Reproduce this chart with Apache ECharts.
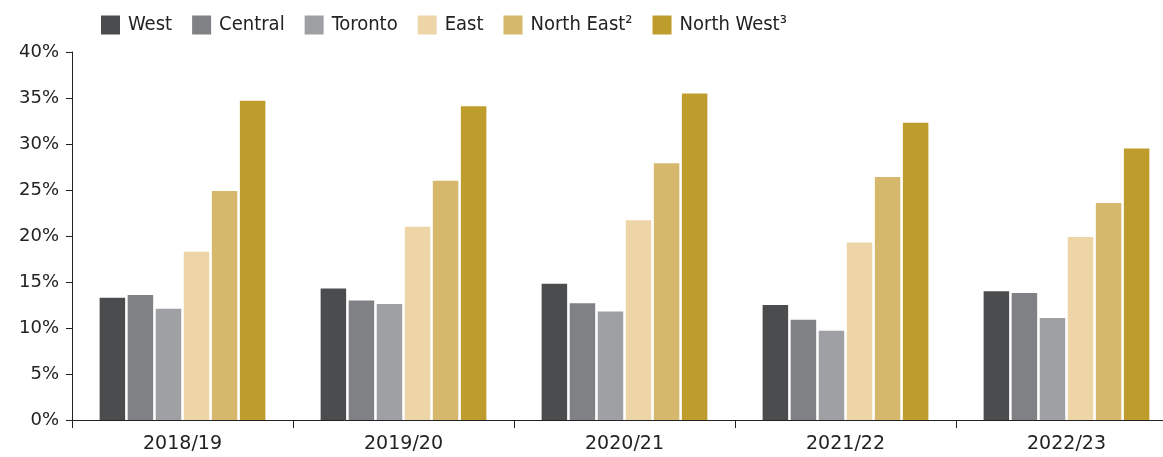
<!DOCTYPE html>
<html>
<head>
<meta charset="utf-8">
<script src="https://cdn.jsdelivr.net/npm/echarts@6/dist/echarts.min.js"></script>
<style>
html,body{margin:0;padding:0;background:#fff;}
#chart{width:1163px;height:457px;}
</style>
</head>
<body>
<div id="chart"></div>
<script>
const categories = ['2018/19', '2019/20', '2020/21', '2021/22', '2022/23'];
const seriesNames = ['West', 'Central', 'Toronto', 'East', 'North East²', 'North West³'];
const west      = [13.3, 14.3, 14.8, 12.5, 14.0];
const central   = [13.6, 13.0, 12.7, 10.9, 13.8];
const toronto   = [12.1, 12.6, 11.8, 9.7, 11.1];
const east      = [18.3, 21.0, 21.7, 19.3, 19.9];
const northEast = [24.9, 26.0, 27.9, 26.4, 23.6];
const northWest = [34.7, 34.1, 35.5, 32.3, 29.5];
const yTicks = [0, 5, 10, 15, 20, 25, 30, 35, 40];

const colors = ['#4b4c4e', '#808184', '#9fa0a3', '#edd5a8', '#d6b86c', '#bf9d2c'];
const values = [west, central, toronto, east, northEast, northWest];

const chart = echarts.init(document.getElementById('chart'), null, {renderer: 'canvas'});
chart.setOption({
  animation: false,
  color: colors,
  legend: {
    left: 96,
    top: 10,
    itemWidth: 19,
    itemHeight: 19,
    itemGap: 20,
    icon: 'rect',
    textStyle: {fontFamily: 'DejaVu Sans Condensed, sans-serif', fontSize: 20, color: '#222', padding: [0, 0, 0, 3]},
    data: seriesNames
  },
  grid: {left: 72, width: 1105, top: 52, bottom: 37, containLabel: false, outerBoundsMode: 'none'},
  xAxis: {
    type: 'category',
    data: categories,
    axisLine: {lineStyle: {color: '#222', width: 1}},
    axisTick: {show: true, length: 8, lineStyle: {color: '#222'}},
    axisLabel: {fontFamily: 'DejaVu Sans, sans-serif', fontSize: 19, color: '#222', margin: 15}
  },
  yAxis: {
    type: 'value',
    min: yTicks[0],
    max: yTicks[yTicks.length - 1],
    interval: 5,
    axisLine: {show: true, lineStyle: {color: '#222', width: 1}},
    axisTick: {show: true, length: 6, lineStyle: {color: '#222'}},
    splitLine: {show: false},
    axisLabel: {formatter: '{value}%', fontFamily: 'DejaVu Sans, sans-serif', fontSize: 18, color: '#222', margin: 13}
  },
  series: seriesNames.map((name, i) => ({
    name: name,
    type: 'bar',
    data: values[i],
    barGap: '10%',
    barCategoryGap: '25%',
    itemStyle: {color: colors[i]}
  }))
});
</script>
</body>
</html>
